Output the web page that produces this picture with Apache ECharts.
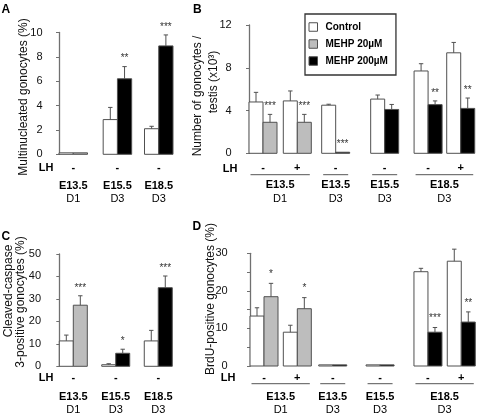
<!DOCTYPE html>
<html><head><meta charset="utf-8">
<script src="https://cdn.jsdelivr.net/npm/echarts@6/dist/echarts.min.js"></script>
<style>html,body{margin:0;padding:0;background:#fff}#c{width:478px;height:416px}</style>
</head><body><div id="c"></div>
<script>
// ================= DATA =================
const SERIES_NAMES = ['Control', 'MEHP 20µM', 'MEHP 200µM'];

// Panel A — Multinucleated gonocytes (%)
const A_ctrl    = [0.12, 2.85, 2.1];
const A_ctrlErr = [0, 1.0, 0.2];
const A_trt     = [0.12, 6.2, 8.9];
const A_trtErr  = [0, 1.0, 0.9];
const A_dose    = ['20', '200', '200'];
const A_sig     = ['', '**', '***'];
const A_lh      = ['-', '-', '-'];
const A_groupTop   = ['E13.5', 'E15.5', 'E18.5'];
const A_groupBot   = ['D1', 'D3', 'D3'];
const A_groupPairs = [1, 1, 1];

// Panel B — Number of gonocytes / testis (x10³)
const B_ctrl    = [4.8, 4.9, 4.5, 5.07, 7.7, 9.4];
const B_ctrlErr = [0.9, 0.93, 0.09, 0.38, 0.68, 0.97];
const B_trt     = [2.9, 2.9, 0.1, 4.1, 4.55, 4.2];
const B_trtErr  = [0.74, 0.74, 0, 0.47, 0.35, 0.97];
const B_dose    = ['20', '20', '200', '200', '200', '200'];
const B_sig     = ['***', '***', '***', '', '**', '**'];
const B_lh      = ['-', '+', '-', '-', '-', '+'];
const B_groupTop   = ['E13.5', 'E13.5', 'E15.5', 'E18.5'];
const B_groupBot   = ['D1', 'D3', 'D3', 'D3'];
const B_groupPairs = [2, 1, 1, 2];

// Panel C — Cleaved-caspase 3-positive gonocytes (%)
const C_ctrl    = [11.3, 0.7, 11.3];
const C_ctrlErr = [2.6, 0.45, 4.7];
const C_trt     = [27.2, 5.8, 35.0];
const C_trtErr  = [4.2, 1.8, 5.2];
const C_dose    = ['20', '200', '200'];
const C_sig     = ['***', '*', '***'];
const C_lh      = ['-', '-', '-'];
const C_groupTop   = ['E13.5', 'E15.5', 'E18.5'];
const C_groupBot   = ['D1', 'D3', 'D3'];
const C_groupPairs = [1, 1, 1];

// Panel D — BrdU-positive gonocytes (%)
const D_ctrl    = [13.3, 9.0, 0.3, 0.3, 25.1, 27.9];
const D_ctrlErr = [2.2, 1.85, 0, 0, 0.9, 3.2];
const D_trt     = [18.45, 15.25, 0.3, 0.3, 9.0, 11.7];
const D_trtErr  = [3.55, 2.95, 0, 0, 1.25, 2.7];
const D_dose    = ['20', '20', '200', '200', '200', '200'];
const D_sig     = ['*', '*', '', '', '***', '**'];
const D_lh      = ['-', '+', '-', '-', '-', '+'];
const D_groupTop   = ['E13.5', 'E13.5', 'E15.5', 'E18.5'];
const D_groupBot   = ['D1', 'D3', 'D3', 'D3'];
const D_groupPairs = [2, 1, 1, 2];

// Axes
const A_yMax = 10, A_yInterval = 2;
const B_yMax = 12, B_yInterval = 4;
const C_yMax = 50, C_yInterval = 10;
const D_yMax = 30, D_yInterval = 10;

const A_title = ['Multinucleated gonocytes (%)'];
const B_title = ['Number of gonocytes /', 'testis (x10³)'];
const C_title = ['Cleaved-caspase', '3-positive gonocytes (%)'];
const D_title = ['BrdU-positive gonocytes (%)'];

// ================= LAYOUT / STYLE =================
const FONT = "'Liberation Sans Narrow', 'Arial Narrow', 'Liberation Sans', Arial, sans-serif";
const AXIS = '#707070';
const EDGE = '#505050';
const FILLS = {ctrl: '#ffffff', '20': '#bdbdbd', '200': '#000000'};

const LAYOUT = {
  A: {left: 59, top: 32.5, width: 114, height: 121.8, xMax: 8, pairStart: [0, 3.1, 6.0], axisOffset: 11.5,
      minor: false, underline: false, lhDy: 13.7, lineDy: 0, l1Dy: 31.7, l2Dy: 44.2, starGap: 8,
      lhPos: [46, 168], titlePos: [[24, 97]], letter: [1.5, 3.5]},
  B: {left: 249, top: 25, width: 226, height: 128.3, xMax: 16.14, pairStart: [0, 2.45, 5.19, 8.69, 11.79, 14.12], axisOffset: 12.3,
      minor: false, underline: true, lhDy: 15, lineDy: 21.4, l1Dy: 32, l2Dy: 45.7, starGap: 8,
      lhPos: [230, 169], titlePos: [[198, 96], [214, 82]], letter: [193, 3.5]},
  C: {left: 59.3, top: 254, width: 113.4, height: 112.3, xMax: 8.1, pairStart: [0, 3.03, 6.07], axisOffset: 13.3,
      minor: false, underline: false, lhDy: 11.7, lineDy: 0, l1Dy: 31, l2Dy: 43.7, starGap: 8,
      lhPos: [46, 378], titlePos: [[9, 291], [21, 302]], letter: [1.5, 230.5]},
  D: {left: 250, top: 253.3, width: 225.7, height: 112.7, xMax: 16.12, pairStart: [0, 2.38, 4.91, 8.29, 11.71, 14.09], axisOffset: 17.3,
      minor: true, underline: true, lhDy: 11.7, lineDy: 17.7, l1Dy: 31.3, l2Dy: 44, starGap: 9,
      lhPos: [228, 378], titlePos: [[211, 299]], letter: [192.5, 220.5]}
};

const PANELS = [
  {key: 'A', ctrl: A_ctrl, ctrlErr: A_ctrlErr, trt: A_trt, trtErr: A_trtErr, dose: A_dose, sig: A_sig, lh: A_lh,
   gTop: A_groupTop, gBot: A_groupBot, gPairs: A_groupPairs, yMax: A_yMax, yInt: A_yInterval, title: A_title},
  {key: 'B', ctrl: B_ctrl, ctrlErr: B_ctrlErr, trt: B_trt, trtErr: B_trtErr, dose: B_dose, sig: B_sig, lh: B_lh,
   gTop: B_groupTop, gBot: B_groupBot, gPairs: B_groupPairs, yMax: B_yMax, yInt: B_yInterval, title: B_title},
  {key: 'C', ctrl: C_ctrl, ctrlErr: C_ctrlErr, trt: C_trt, trtErr: C_trtErr, dose: C_dose, sig: C_sig, lh: C_lh,
   gTop: C_groupTop, gBot: C_groupBot, gPairs: C_groupPairs, yMax: C_yMax, yInt: C_yInterval, title: C_title},
  {key: 'D', ctrl: D_ctrl, ctrlErr: D_ctrlErr, trt: D_trt, trtErr: D_trtErr, dose: D_dose, sig: D_sig, lh: D_lh,
   gTop: D_groupTop, gBot: D_groupBot, gPairs: D_groupPairs, yMax: D_yMax, yInt: D_yInterval, title: D_title}
];

// ================= BUILD =================
function barRenderer(fill, sigList, starGap) {
  return function (params, api) {
    const x = api.value(0), v = api.value(1), e = api.value(2), k = api.value(3);
    const base = api.coord([x - 0.5, 0]);
    const top = api.coord([x + 0.5, v]);
    const cx = (base[0] + top[0]) / 2;
    const children = [{
      type: 'rect',
      shape: {x: base[0], y: top[1], width: top[0] - base[0], height: Math.max(base[1] - top[1], 0.5)},
      style: {fill: fill, stroke: EDGE, lineWidth: 1}
    }];
    let yTop = top[1];
    if (e > 0) {
      const pe = api.coord([x, v + e]);
      children.push({type: 'line', shape: {x1: cx, y1: top[1], x2: cx, y2: pe[1]}, style: {stroke: EDGE, lineWidth: 1}});
      children.push({type: 'line', shape: {x1: cx - 2.2, y1: pe[1], x2: cx + 2.2, y2: pe[1]}, style: {stroke: EDGE, lineWidth: 1}});
      yTop = pe[1];
    }
    if (sigList && sigList[k]) {
      children.push({type: 'text', x: cx, y: yTop - starGap,
        style: {text: sigList[k], align: 'center', verticalAlign: 'middle', fontSize: 10,
                fontFamily: 'Liberation Sans, Arial, sans-serif', fill: '#333'}});
    }
    return {type: 'group', children: children};
  };
}

const grids = [], xAxes = [], yAxes = [], series = [], graphics = [];

PANELS.forEach(function (P, i) {
  const L = LAYOUT[P.key];
  grids.push({left: L.left, top: L.top, width: L.width, height: L.height});
  xAxes.push({type: 'value', gridIndex: i, min: 0, max: L.xMax, show: false});
  yAxes.push({
    type: 'value', gridIndex: i, min: 0, max: P.yMax, interval: P.yInt, offset: L.axisOffset,
    axisLine: {show: true, lineStyle: {color: AXIS, width: 1.3}},
    axisTick: {show: true, length: 3, lineStyle: {color: AXIS, width: 1}},
    minorTick: {show: L.minor, splitNumber: 2, length: 3, lineStyle: {color: AXIS, width: 1}},
    axisLabel: {fontSize: 11, fontFamily: FONT, color: '#111', margin: 5},
    splitLine: {show: false}
  });

  const ctrlRows = P.ctrl.map(function (v, k) { return [L.pairStart[k] + 0.5, v, P.ctrlErr[k], k]; });
  const rows20 = [], rows200 = [];
  P.trt.forEach(function (v, k) {
    const row = [L.pairStart[k] + 1.5, v, P.trtErr[k], k];
    (P.dose[k] === '20' ? rows20 : rows200).push(row);
  });
  const common = {type: 'custom', xAxisIndex: i, yAxisIndex: i, encode: {x: 0, y: 1}, clip: false};
  series.push(Object.assign({name: SERIES_NAMES[0], data: ctrlRows, renderItem: barRenderer(FILLS.ctrl, null, 0)}, common));
  series.push(Object.assign({name: SERIES_NAMES[1], data: rows20, renderItem: barRenderer(FILLS['20'], P.sig, L.starGap)}, common));
  series.push(Object.assign({name: SERIES_NAMES[2], data: rows200, renderItem: barRenderer(FILLS['200'], P.sig, L.starGap)}, common));

  // LH signs under each pair
  series.push(Object.assign({}, common, {
    silent: true,
    data: P.lh.map(function (s, k) { return [L.pairStart[k] + 1, 0, k]; }),
    renderItem: function (params, api) {
      const p = api.coord([api.value(0), 0]);
      return {type: 'text', x: p[0], y: p[1] + L.lhDy,
        style: {text: P.lh[api.value(2)], align: 'center', verticalAlign: 'middle', fontSize: 11,
                fontWeight: 'bold', fontFamily: FONT, fill: '#000'}};
    }
  }));

  // Group labels (and underlines)
  const gRows = [];
  let pi = 0;
  P.gPairs.forEach(function (n, g) {
    gRows.push([L.pairStart[pi], L.pairStart[pi + n - 1] + 2, g]);
    pi += n;
  });
  series.push(Object.assign({}, common, {
    silent: true,
    data: gRows,
    renderItem: function (params, api) {
      const a = api.coord([api.value(0), 0]);
      const b = api.coord([api.value(1), 0]);
      const g = api.value(2);
      const cx = (a[0] + b[0]) / 2;
      const ch = [
        {type: 'text', x: cx, y: a[1] + L.l1Dy, style: {text: P.gTop[g], align: 'center', verticalAlign: 'middle',
          fontSize: 11, fontWeight: 'bold', fontFamily: FONT, fill: '#000'}},
        {type: 'text', x: cx, y: a[1] + L.l2Dy, style: {text: P.gBot[g], align: 'center', verticalAlign: 'middle',
          fontSize: 11, fontFamily: FONT, fill: '#000'}}
      ];
      if (L.underline) {
        ch.push({type: 'line', shape: {x1: a[0] + 1.5, y1: a[1] + L.lineDy, x2: b[0] - 1.5, y2: a[1] + L.lineDy},
          style: {stroke: '#555', lineWidth: 1}});
      }
      return {type: 'group', children: ch};
    }
  }));

  // Graphics: panel letter, LH label, y titles
  graphics.push({type: 'text', x: L.letter[0], y: L.letter[1],
    style: {text: P.key, fontSize: 12, fontWeight: 'bold', fontFamily: 'Liberation Sans, Arial, sans-serif', fill: '#000',
            align: 'left', verticalAlign: 'top'}});
  graphics.push({type: 'text', x: L.lhPos[0], y: L.lhPos[1],
    style: {text: 'LH', fontSize: 11, fontWeight: 'bold', fontFamily: FONT, fill: '#000', align: 'center', verticalAlign: 'middle'}});
  P.title.forEach(function (t, j) {
    graphics.push({type: 'text', x: L.titlePos[j][0], y: L.titlePos[j][1], rotation: Math.PI / 2,
      style: {text: t, fontSize: 12, fontFamily: FONT, fill: '#111', align: 'center', verticalAlign: 'middle'}});
  });
});

const chart = echarts.init(document.getElementById('c'), null, {renderer: 'canvas'});
chart.setOption({
  animation: false,
  backgroundColor: '#fff',
  grid: grids,
  xAxis: xAxes,
  yAxis: yAxes,
  legend: {
    orient: 'vertical', left: 305, top: 14, padding: [7, 8, 8, 3.5],
    itemWidth: 8.5, itemHeight: 8.5, itemGap: 5, selectedMode: false,
    borderColor: '#333', borderWidth: 1.3,
    textStyle: {fontSize: 10, fontWeight: 'bold', fontFamily: FONT, color: '#000', lineHeight: 12, padding: [0, 0, 0, 3]},
    data: [
      {name: SERIES_NAMES[0], icon: 'rect', itemStyle: {color: FILLS.ctrl, borderColor: EDGE, borderWidth: 1}},
      {name: SERIES_NAMES[1], icon: 'rect', itemStyle: {color: FILLS['20'], borderColor: EDGE, borderWidth: 1}},
      {name: SERIES_NAMES[2], icon: 'rect', itemStyle: {color: FILLS['200'], borderColor: EDGE, borderWidth: 1}}
    ]
  },
  graphic: graphics,
  series: series
});
</script>
</body></html>
